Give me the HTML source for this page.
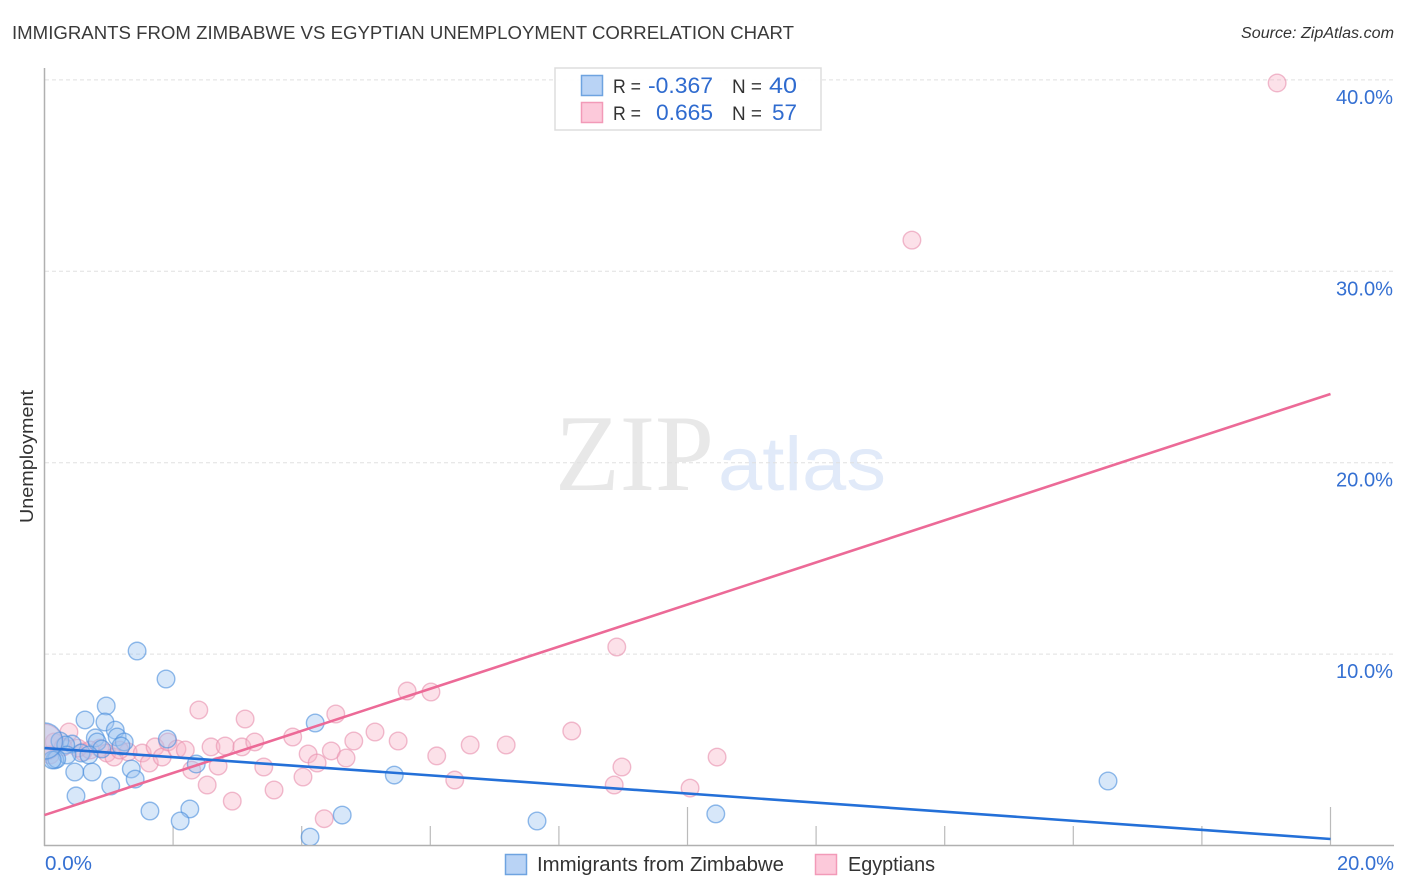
<!DOCTYPE html>
<html>
<head>
<meta charset="utf-8">
<title>Immigrants from Zimbabwe vs Egyptian Unemployment Correlation Chart</title>
<style>
html,body{margin:0;padding:0;background:#fff;width:1406px;height:892px;overflow:hidden}
svg{display:block;font-family:"Liberation Sans",sans-serif}
</style>
</head>
<body>
<svg id="chart" width="1406" height="892" viewBox="0 0 1406 892">
<defs><clipPath id="plot-clip"><rect x="45" y="60" width="1350" height="785"></rect></clipPath></defs>
<text x="12" y="39" font-size="18" fill="#3a3a3a" textLength="782" lengthAdjust="spacingAndGlyphs">IMMIGRANTS FROM ZIMBABWE VS EGYPTIAN UNEMPLOYMENT CORRELATION CHART</text>
<text x="1241" y="38" font-size="15.5" font-style="italic" fill="#333" textLength="153" lengthAdjust="spacingAndGlyphs">Source: ZipAtlas.com</text>
<text transform="translate(33,456.5) rotate(-90)" font-size="18" fill="#333" text-anchor="middle" textLength="133" lengthAdjust="spacingAndGlyphs">Unemployment</text>
<g>
<text x="555" y="490" font-family="'Liberation Serif',serif" font-size="109" fill="#e8e8e8" textLength="159" lengthAdjust="spacingAndGlyphs">ZIP</text>
<text x="718" y="490" font-size="76" fill="#e1eaf9" textLength="168" lengthAdjust="spacingAndGlyphs">atlas</text>
</g>
<g id="grid"></g>
<g id="axes"></g>
<g id="points" clip-path="url(#plot-clip)"></g>
<g id="trends"></g>
<g id="tick-labels"></g>
<g>
<rect x="555" y="68" width="266" height="62" fill="#fff" fill-opacity="0.9" stroke="#ddd" stroke-width="1.5"></rect>
<rect x="581.5" y="75.5" width="21" height="20" fill="#b9d3f5" stroke="#6ea3e0" stroke-width="1.5"></rect>
<rect x="581.5" y="102.5" width="21" height="20" fill="#fcc9da" stroke="#f29ab8" stroke-width="1.5"></rect>
<text x="613" y="93" font-size="19" fill="#333" textLength="28" lengthAdjust="spacingAndGlyphs">R =</text>
<text x="648" y="93" font-size="22" fill="#2f6bcf" textLength="65" lengthAdjust="spacingAndGlyphs">-0.367</text>
<text x="732" y="93" font-size="19" fill="#333" textLength="30" lengthAdjust="spacingAndGlyphs">N =</text>
<text x="769" y="93" font-size="22" fill="#2f6bcf" textLength="28" lengthAdjust="spacingAndGlyphs">40</text>
<text x="613" y="120" font-size="19" fill="#333" textLength="28" lengthAdjust="spacingAndGlyphs">R =</text>
<text x="656" y="120" font-size="22" fill="#2f6bcf" textLength="57" lengthAdjust="spacingAndGlyphs">0.665</text>
<text x="732" y="120" font-size="19" fill="#333" textLength="30" lengthAdjust="spacingAndGlyphs">N =</text>
<text x="772" y="120" font-size="22" fill="#2f6bcf" textLength="25" lengthAdjust="spacingAndGlyphs">57</text>
</g>
<g>
<rect x="505.5" y="854.5" width="21" height="20" fill="#b9d3f5" stroke="#6ea3e0" stroke-width="1.5"></rect>
<text x="537" y="871" font-size="20" fill="#333" textLength="247" lengthAdjust="spacingAndGlyphs">Immigrants from Zimbabwe</text>
<rect x="815.5" y="854.5" width="21" height="20" fill="#fcc9da" stroke="#f29ab8" stroke-width="1.5"></rect>
<text x="848" y="871" font-size="20" fill="#333" textLength="87" lengthAdjust="spacingAndGlyphs">Egyptians</text>
</g>
</svg>
<script>
var yGridValues = [10, 20, 30, 40];
var yTickLabels = ["10.0%", "20.0%", "30.0%", "40.0%"];
var xTickValues = [2, 4, 6, 8, 10, 12, 14, 16, 18, 20];
var xMajorTicks = [10, 20];
var xEndValues = [0, 20];
var xEndLabels = ["0.0%", "20.0%"];

var zimbabweX = [1.44,1.89,0.96,0.63,0.94,1.10,1.13,0.79,0.82,1.24,1.91,0.43,0.24,0.33,1.19,0.89,0.57,0.69,0.35,0.16,0.19,0.12,0.47,0.74,1.35,1.41,1.03,0.49,1.64,2.26,2.11,2.36,5.44,4.63,4.13,4.21,7.66,10.44,16.54,0.0];
var zimbabweY = [10.16,8.70,7.29,6.56,6.45,6.03,5.67,5.62,5.41,5.41,5.56,5.30,5.46,5.25,5.20,5.04,4.83,4.73,4.73,4.47,4.52,4.47,3.84,3.84,4.00,3.47,3.11,2.59,1.80,1.91,1.28,4.26,3.68,1.59,0.44,6.40,1.28,1.65,3.37,5.46];
var zimbabweWeight = [1,1,1,1,1,1,1,1,1,1,1,1,1,1,1,1,1,1,1,1,1,1,1,1,1,1,1,1,1,1,1,1,1,1,1,1,1,1,1,2];

var egyptiansX = [2.40,3.12,3.86,0.38,0.15,0.29,0.60,0.86,0.97,1.08,1.30,1.52,1.63,1.72,1.83,1.92,2.06,2.19,2.29,2.53,2.59,2.70,2.81,2.92,3.07,3.27,3.41,3.57,4.02,5.64,6.01,4.53,4.81,5.14,5.50,4.10,4.46,4.69,4.24,6.10,6.62,7.18,8.20,8.98,8.86,10.04,10.46,6.38,4.35,8.90,13.49,19.17,0.52,0.71,0.09,1.17,0.0];
var egyptiansY = [7.08,6.61,5.67,5.93,5.41,5.15,4.89,5.09,4.83,4.62,4.89,4.83,4.31,5.15,4.62,5.41,5.04,4.99,3.94,3.16,5.15,4.15,5.20,2.32,5.15,5.41,4.10,2.90,3.58,8.07,8.02,6.87,5.46,5.93,5.46,4.78,4.94,4.57,4.31,4.68,5.25,5.25,5.98,4.10,3.16,3.00,4.62,3.42,1.40,10.37,31.63,39.84,5.09,4.99,4.73,4.99,5.40];
var egyptiansWeight = [1,1,1,1,1,1,1,1,1,1,1,1,1,1,1,1,1,1,1,1,1,1,1,1,1,1,1,1,1,1,1,1,1,1,1,1,1,1,1,1,1,1,1,1,1,1,1,1,1,1,1,1,1,1,1,1,2];

var zimbabweTrendX = [0, 20];
var zimbabweTrendY = [5.09, 0.34];
var egyptiansTrendX = [0, 20];
var egyptiansTrendY = [1.59, 23.59];

function xScale(v) { return 44.5 + v * 64.3; }
function yScale(v) { return 845.5 - v * 19.14; }
function radiusFor(w) { return w > 1 ? 18 : 8.8; }

var NS = 'http://www.w3.org/2000/svg';
function make(tag, parent, attrs) {
  var el = document.createElementNS(NS, tag);
  for (var k in attrs) { el.setAttribute(k, attrs[k]); }
  parent.appendChild(el);
  return el;
}

var grid = document.getElementById('grid');
var axes = document.getElementById('axes');
var tickLabels = document.getElementById('tick-labels');
var points = document.getElementById('points');
var trends = document.getElementById('trends');

yGridValues.forEach(function (v, i) {
  var line = make('line', grid, {x1: 45, x2: 1394, y1: yScale(v), y2: yScale(v), stroke: '#e0e0e0', 'stroke-width': 1, 'stroke-dasharray': '4 3'});
  
  
  var label = make('text', tickLabels, {x: 1336, y: yScale(v) + 24, 'font-size': 20, fill: '#3570d2', textLength: 57, lengthAdjust: 'spacingAndGlyphs'});
  label.textContent = yTickLabels[i];
  
  
});

var yAxis = make('line', axes, {x1: 44.5, x2: 44.5, y1: 68, y2: 846, stroke: '#b0b0b0', 'stroke-width': 1.5});


var xAxis = make('line', axes, {x1: 44, x2: 1394, y1: 845.5, y2: 845.5, stroke: '#b0b0b0', 'stroke-width': 1.5});



xTickValues.forEach(function (v) {
  var top = xMajorTicks.indexOf(v) >= 0 ? 807 : 826;
  var tick = make('line', axes, {x1: xScale(v), x2: xScale(v), y1: top, y2: 845, stroke: '#bbb', 'stroke-width': 1.2});
  
  
});

xEndValues.forEach(function (v, i) {
  var label = make('text', tickLabels, {x: i === 0 ? 45 : 1337, y: 870, 'font-size': 20, fill: '#3570d2', textLength: i === 0 ? 47 : 57, lengthAdjust: 'spacingAndGlyphs'});
  label.textContent = xEndLabels[i];
  
  
});

egyptiansX.forEach(function (v, i) {
  var c = make('circle', points, {cx: xScale(v), cy: yScale(egyptiansY[i]), r: radiusFor(egyptiansWeight[i]), fill: '#f8b4c9', 'fill-opacity': 0.4, stroke: '#e88fae', 'stroke-opacity': 0.6, 'stroke-width': 1.4});
  
  
});

zimbabweX.forEach(function (v, i) {
  var c = make('circle', points, {cx: xScale(v), cy: yScale(zimbabweY[i]), r: radiusFor(zimbabweWeight[i]), fill: '#9cc2f0', 'fill-opacity': 0.4, stroke: '#4a8ddc', 'stroke-opacity': 0.6, 'stroke-width': 1.4});
  
  
});

var egyptiansLine = make('line', trends, {x1: xScale(egyptiansTrendX[0]), y1: yScale(egyptiansTrendY[0]), x2: xScale(egyptiansTrendX[1]), y2: yScale(egyptiansTrendY[1]), stroke: '#ec6a97', 'stroke-width': 2.6});


var zimbabweLine = make('line', trends, {x1: xScale(zimbabweTrendX[0]), y1: yScale(zimbabweTrendY[0]), x2: xScale(zimbabweTrendX[1]), y2: yScale(zimbabweTrendY[1]), stroke: '#2470d8', 'stroke-width': 2.6});


</script>
</body>
</html>
